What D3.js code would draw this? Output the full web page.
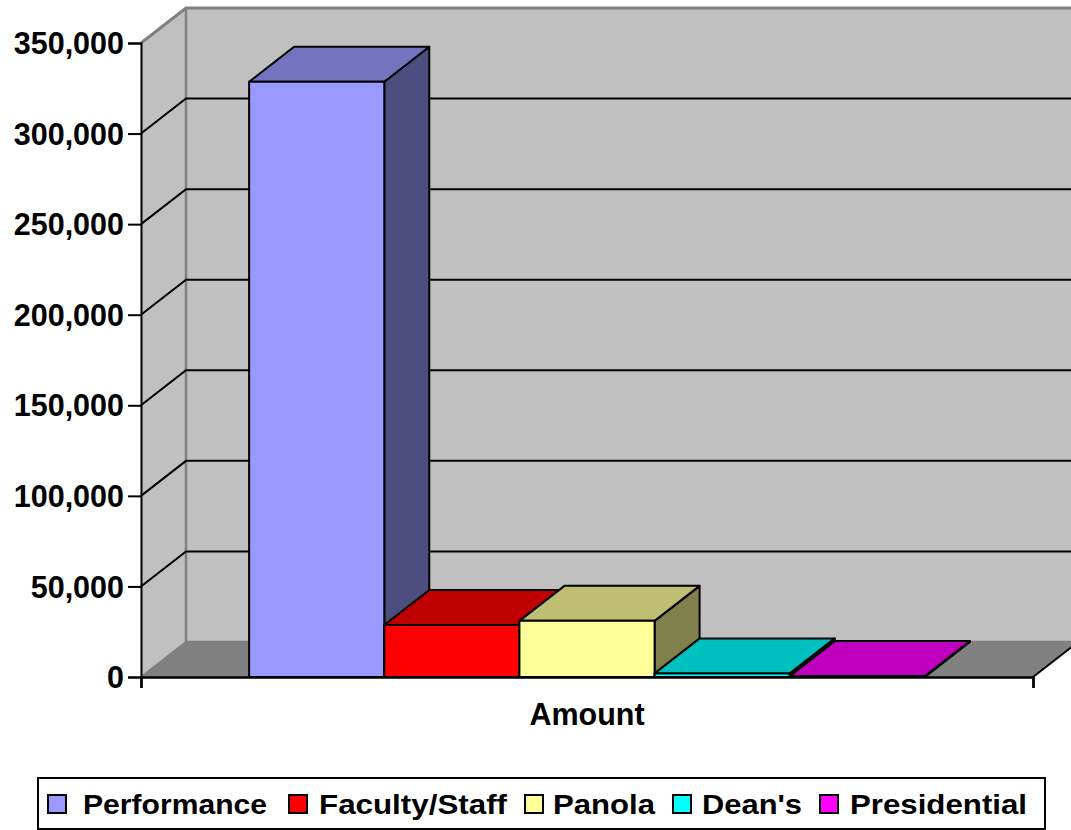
<!DOCTYPE html>
<html><head><meta charset="utf-8">
<script src="https://cdn.jsdelivr.net/npm/d3@7"></script>
<style>body{margin:0;background:#fff}svg{display:block}text{font-family:"Liberation Sans",Arial,sans-serif;font-weight:bold}</style>
</head><body><svg id="c" width="1071" height="830"></svg>
<script>
const category = ["Amount"];
const series = ["Performance","Faculty/Staff","Panola","Dean's","Presidential"];
const values = [328600, 28700, 31000, 2000, 500];
const colors = ["#9999FF","#FF0000","#FFFF99","#00FFFF","#FF00FF"];
const yTicks = [0,50000,100000,150000,200000,250000,300000,350000];

const svg = d3.select("#c");
const DX = 45, DY = -35;
const x0 = 141, x1 = 1033;
const y = d3.scaleLinear().domain([0,350000]).range([677,43]);
const xCat = d3.scaleBand().domain(category).range([x0,x1]);
const x = d3.scaleBand().domain(series).range([xCat(category[0]), xCat(category[0])+xCat.bandwidth()]).paddingInner(0).paddingOuter(0.8);
const fmt = d3.format(",");

// back wall
svg.append("rect").attr("x",x0+DX).attr("y",y(350000)+DY).attr("width",1100).attr("height",y(0)-y(350000)).attr("fill","#C0C0C0");
// side wall
svg.append("path").attr("d",`M${x0},${y(0)}L${x0},${y(350000)}L${x0+DX},${y(350000)+DY}L${x0+DX},${y(0)+DY}Z`).attr("fill","#C0C0C0");
// floor
svg.append("path").attr("d",`M${x0},${y(0)}L${x1},${y(0)}L${x1+DX},${y(0)+DY}L${x0+DX},${y(0)+DY}Z`).attr("fill","#808080");
// wall edges (gray)
const gray = "#808080";
svg.append("path").attr("d",`M${x0},${y(350000)}L${x0+DX},${y(350000)+DY}L1100,${y(350000)+DY}`).attr("fill","none").attr("stroke",gray).attr("stroke-width",3);
svg.append("path").attr("d",`M${x0+DX},${y(350000)+DY}L${x0+DX},${y(0)+DY}L1100,${y(0)+DY}`).attr("fill","none").attr("stroke",gray).attr("stroke-width",2.5);
svg.append("path").attr("d",`M${x0},${y(0)}L${x0+DX},${y(0)+DY}`).attr("fill","none").attr("stroke",gray).attr("stroke-width",2);
// gridlines
yTicks.filter(t=>t>0 && t<350000).forEach(t=>{
  svg.append("path").attr("d",`M${x0},${y(t)}L${x0+DX},${y(t)+DY}L1100,${y(t)+DY}`).attr("fill","none").attr("stroke","#000").attr("stroke-width",2);
});
// floor right edge
svg.append("path").attr("d",`M${x1},${y(0)}L${x1+DX},${y(0)+DY}`).attr("stroke","#000").attr("stroke-width",2);

// bars
const shade = (c,k)=>{const r=d3.rgb(c);return d3.rgb(r.r*k,r.g*k,r.b*k).formatHex();};
series.forEach((s,i)=>{
  const xl = x(s), xr = x(s)+x.bandwidth(), yt = y(values[i]), yb = y(0);
  const g = svg.append("g").attr("stroke","#000").attr("stroke-width",2).attr("stroke-linejoin","round");
  g.append("path").attr("d",`M${xr},${yb}L${xr+DX},${yb+DY}L${xr+DX},${yt+DY}L${xr},${yt}Z`).attr("fill",shade(colors[i],0.5));
  g.append("path").attr("d",`M${xl},${yt}L${xl+DX},${yt+DY}L${xr+DX},${yt+DY}L${xr},${yt}Z`).attr("fill",shade(colors[i],0.75));
  g.append("rect").attr("x",xl).attr("y",yt).attr("width",xr-xl).attr("height",yb-yt).attr("fill",colors[i]);
});

// axes
const yAxis = d3.axisLeft(y).tickValues(yTicks).tickSize(13).tickPadding(4).tickFormat(fmt);
const ga = svg.append("g").attr("transform",`translate(${x0},0)`).call(yAxis);
ga.select(".domain").attr("stroke","#000").attr("stroke-width",2);
ga.selectAll(".tick line").attr("stroke","#000").attr("stroke-width",2);
ga.selectAll(".tick text").attr("font-size",30.5).attr("font-family","Liberation Sans, Arial, sans-serif").attr("font-weight","bold").attr("fill","#000").attr("dy","0.35em");
const xAxis = d3.axisBottom(d3.scaleLinear().domain([0,1]).range([x0,x1])).tickValues([0,1]).tickSize(11).tickFormat("");
const gx = svg.append("g").attr("transform",`translate(0,${y(0)})`).call(xAxis);
gx.select(".domain").attr("stroke","#000").attr("stroke-width",2.5);
gx.selectAll(".tick line").attr("stroke","#000").attr("stroke-width",2);
svg.append("text").attr("x",(x0+x1)/2).attr("y",725).attr("text-anchor","middle").attr("font-size",30.5).text(category[0]);

// legend
const lg = svg.append("g");
lg.append("rect").attr("x",38).attr("y",778).attr("width",1007).attr("height",51).attr("fill","#fff").attr("stroke","#000").attr("stroke-width",2);
const swX = [48, 289, 525, 673, 820];
const txX = [83, 319, 553, 702, 850];
const txW = [184, 188, 102, 100, 177];
series.forEach((s,i)=>{
  lg.append("rect").attr("x",swX[i]).attr("y",795).attr("width",18).attr("height",18).attr("fill",colors[i]).attr("stroke","#000").attr("stroke-width",2);
  lg.append("text").attr("x",txX[i]).attr("y",814).attr("font-size",28.5).attr("textLength",txW[i]).attr("lengthAdjust","spacingAndGlyphs").text(s);
});
</script></body></html>
